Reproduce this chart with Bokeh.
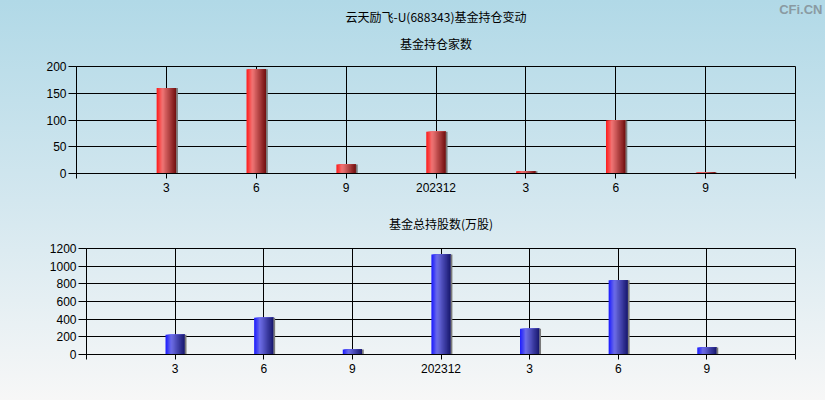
from bokeh.plotting import figure
from bokeh.layouts import column
from bokeh.models import FixedTicker, Range1d, Title
from bokeh.embed import file_html
from bokeh.resources import INLINE

# ---- data ----
tick_labels = ["3", "6", "9", "202312", "3", "6", "9"]
holders = [160, 195, 17, 78, 4, 99, 2]          # 基金持仓家数
shares = [224, 415, 56, 1133, 292, 841, 80]     # 基金总持股数(万股)
holder_ticks = [0, 50, 100, 150, 200]
share_ticks = [0, 200, 400, 600, 800, 1000, 1200]

title_main = "云天励飞-U(688343)基金持仓变动"
title_top = "基金持仓家数"
title_bottom = "基金总持股数(万股)"

CJK = "Noto Sans CJK SC"
NUM = "Liberation Sans"
W = 825


def lerp_color(stops, t):
    for (t0, c0), (t1, c1) in zip(stops, stops[1:]):
        if t0 <= t <= t1:
            f = (t - t0) / (t1 - t0) if t1 > t0 else 0
            return "#%02x%02x%02x" % tuple(int(round(a + (b - a) * f)) for a, b in zip(c0, c1))
    return "#%02x%02x%02x" % stops[-1][1]


def style_title(t, text, font, size, bold, align, standoff, color="black"):
    t.text = text
    t.text_font = font
    t.text_font_size = size
    t.text_font_style = "bold" if bold else "normal"
    t.align = align
    t.standoff = standoff
    t.text_color = color
    return t


def make_fig(values, yticks, ymax, height, left, top, bottom, stops):
    n_cat = len(values)
    p = figure(width=W, height=height, output_backend="svg", toolbar_location=None,
               x_range=Range1d(0, n_cat + 1), y_range=Range1d(0, ymax),
               min_border_left=left, min_border_right=30,
               min_border_top=top, min_border_bottom=bottom)
    p.background_fill_alpha = 0
    p.border_fill_alpha = 0
    p.outline_line_color = "black"
    p.outline_line_width = 1

    xs = list(range(1, n_cat + 1))
    # gradient bars as overlapping strips (each covers from its left edge to bar's right edge)
    bw = 0.217
    nstrip = 16
    sw = bw / nstrip
    for k in range(nstrip):
        t = (k + 0.5) / nstrip
        col = lerp_color(stops, t)
        w = bw - k * sw
        p.vbar(x=[x + bw / 2 - w / 2 for x in xs], top=values, bottom=0,
               width=w, fill_color=col, line_color=None)
    # grey shadow
    p.vbar(x=[x + bw / 2 + 0.01 for x in xs], top=values, bottom=0,
           width=0.02, fill_color="#7a7a7a", line_color=None)

    # axes
    p.xaxis.ticker = FixedTicker(ticks=list(range(0, n_cat + 2)))
    overrides = {0: "", n_cat + 1: ""}
    for i, lab in enumerate(tick_labels):
        overrides[i + 1] = lab
    p.xaxis.major_label_overrides = overrides
    p.yaxis.ticker = FixedTicker(ticks=yticks)
    for ax in (p.xaxis, p.yaxis):
        ax.axis_line_color = "black"
        ax.major_tick_line_color = "black"
        ax.minor_tick_line_color = None
        ax.major_tick_in = 0
        ax.major_label_text_font = NUM
        ax.major_label_text_font_size = "12px"
        ax.major_label_text_color = "black"
    p.xaxis.major_tick_out = 5
    p.yaxis.major_tick_out = 8
    p.yaxis.major_label_standoff = 2
    p.xaxis.major_label_standoff = 4

    p.xgrid.ticker = FixedTicker(ticks=xs)
    p.ygrid.ticker = FixedTicker(ticks=yticks)
    for g in (p.xgrid, p.ygrid):
        g.grid_line_color = "black"
        g.grid_line_width = 1
        g.grid_line_alpha = 1
        g.level = "underlay"
    return p


red_stops = [(0.0, (255, 25, 25)), (0.3, (240, 118, 118)), (1.0, (112, 14, 14))]
blue_stops = [(0.0, (25, 25, 255)), (0.3, (110, 110, 232)), (1.0, (22, 22, 108))]

p1 = make_fig(holders, holder_ticks, 200, 199, 76, 66, 26, red_stops)
p2 = make_fig(shares, share_ticks, 1200, 201, 86, 48, 46, blue_stops)

# top figure titles: figure title is outermost (watermark), appended titles stack from the frame outward
style_title(p1.title, "CFi.CN", NUM, "13px", True, "right", -9, "#8a9aa2")
p1.title.offset = -27
p1.add_layout(style_title(Title(), title_top, CJK, "12px", False, "center", 30), "above")
p1.add_layout(style_title(Title(), title_main, CJK, "12px", False, "center", -14), "above")

style_title(p2.title, title_bottom, CJK, "12px", False, "center", 30)
p2.title.vertical_align = "top"

layout = column(column(p1), column(p2), spacing=0,
                styles={"background": "linear-gradient(to bottom, #b1d9e7 0%, #d3e7ef 50%, #f7f7f7 100%)"})

open("out.html", "w").write(file_html(layout, INLINE))
